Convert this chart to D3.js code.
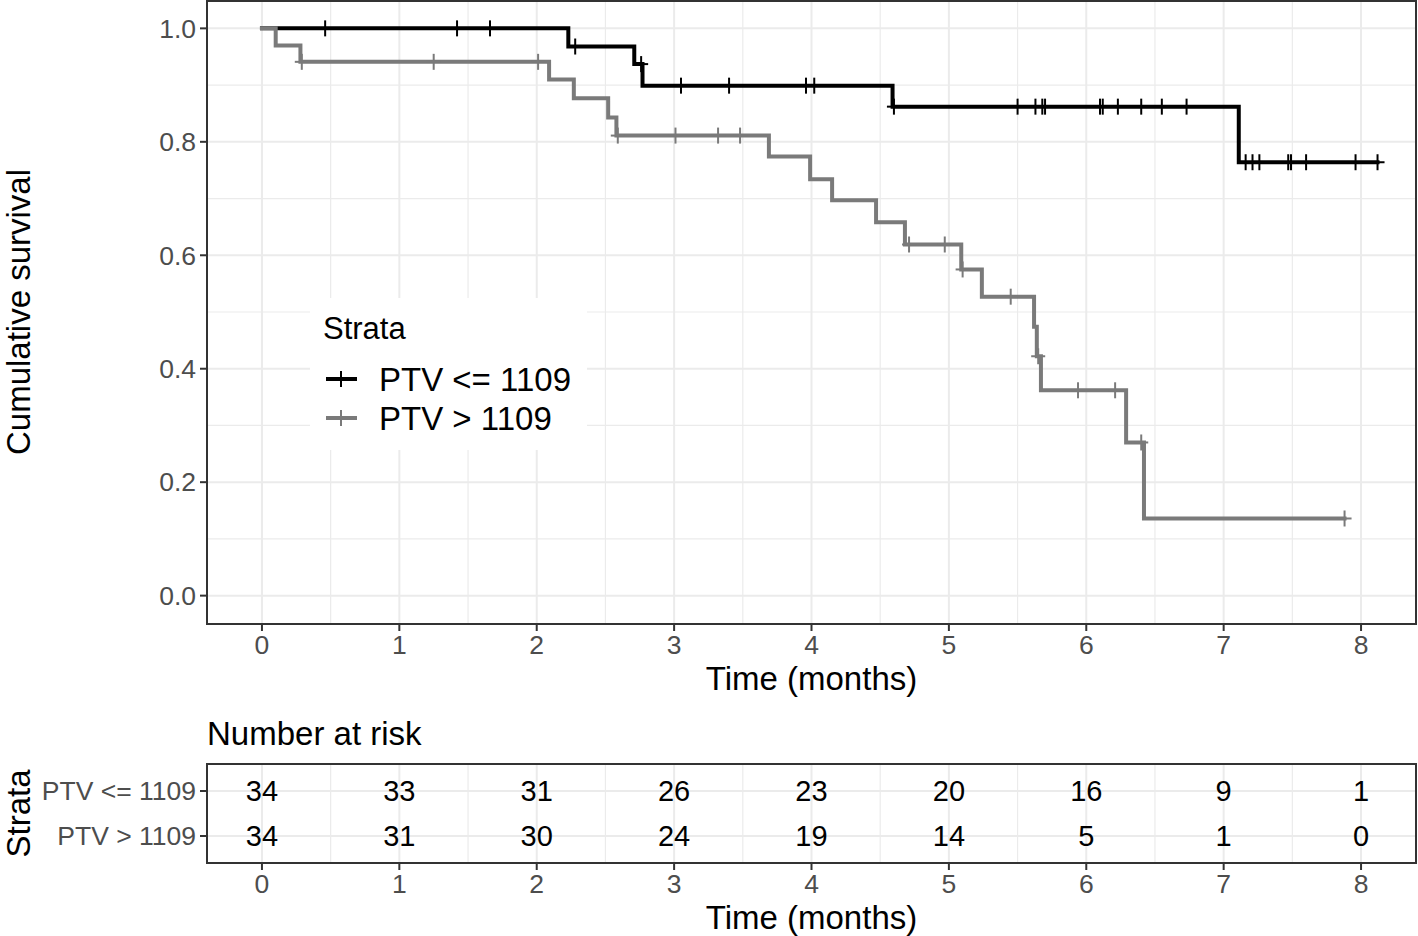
<!DOCTYPE html>
<html lang="en">
<head>
<meta charset="utf-8">
<title>Kaplan-Meier: PTV strata</title>
<script src="https://cdn.jsdelivr.net/npm/d3@7"></script>
<style>
  body { margin: 0; padding: 0; background: #fff; }
  svg { display: block; font-family: "Liberation Sans", Arial, sans-serif; }
  .grid-major { stroke: #ebebeb; stroke-width: 2; }
  .grid-minor { stroke: #ebebeb; stroke-width: 1.2; }
  .tick-lab { fill: #4d4d4d; font-size: 26.5px; }
  .ax-title { fill: #000; font-size: 33px; }
</style>
</head>
<body>
<div id="chart"></div>
<script>
// strata names
var strata = ["PTV <= 1109", "PTV > 1109"];
var colors = ["#000000", "#7a7a7a"];

// PTV <= 1109 : step times / survival after step, censored times
var lowTimes = [0, 2.23, 2.71, 2.77, 4.59, 7.11];
var lowSurv  = [1, 0.968, 0.937, 0.899, 0.862, 0.764];
var lowEnd = 8.12;
var lowCensor = [0.46, 1.42, 1.66, 2.28, 2.76, 3.05, 3.40, 3.96, 4.02, 4.60, 5.50, 5.63, 5.68, 5.70,
                 6.10, 6.12, 6.23, 6.40, 6.55, 6.73, 7.16, 7.21, 7.26, 7.47, 7.49, 7.60, 7.96, 8.12];

// PTV > 1109
var highTimes = [0, 0.10, 0.28, 2.09, 2.27, 2.52, 2.58, 3.69, 3.99, 4.15, 4.47, 4.68, 5.09, 5.24, 5.62, 5.64, 5.67, 6.29, 6.42];
var highSurv  = [1, 0.970, 0.941, 0.910, 0.877, 0.843, 0.811, 0.774, 0.734, 0.697, 0.658, 0.619, 0.575, 0.527, 0.474, 0.422, 0.362, 0.270, 0.136];
var highEnd = 7.88;
var highCensor = [0.29, 1.25, 2.01, 2.59, 3.01, 3.32, 3.48, 4.71, 4.97, 5.10, 5.45, 5.65, 5.94, 6.21, 6.40, 7.88];

// number at risk table
var riskTimes = [0, 1, 2, 3, 4, 5, 6, 7, 8];
var riskLow  = [34, 33, 31, 26, 23, 20, 16, 9, 1];
var riskHigh = [34, 31, 30, 24, 19, 14, 5, 1, 0];

var xTicks = [0, 1, 2, 3, 4, 5, 6, 7, 8];
var yTicks = [0, 0.2, 0.4, 0.6, 0.8, 1.0];

var W = 1418, H = 936;
var svg = d3.select("#chart").append("svg").attr("width", W).attr("height", H);

// ---- main panel ----
var P = {left: 207, right: 1416, top: 0, bottom: 624};
var x = d3.scaleLinear().domain([-0.4, 8.4]).range([P.left, P.right]);
var y = d3.scaleLinear().domain([-0.05, 1.05]).range([P.bottom, P.top]);

var main = svg.append("g");
main.append("rect").attr("x", P.left).attr("y", P.top).attr("width", P.right - P.left)
  .attr("height", P.bottom - P.top).attr("fill", "#fff");

// grid
var xMinor = d3.range(0.5, 8.4, 1);
var yMinor = [0.1, 0.3, 0.5, 0.7, 0.9];
main.selectAll(".gxm").data(xMinor).enter().append("line").attr("class", "grid-minor")
  .attr("x1", d => x(d)).attr("x2", d => x(d)).attr("y1", P.top).attr("y2", P.bottom);
main.selectAll(".gym").data(yMinor).enter().append("line").attr("class", "grid-minor")
  .attr("y1", d => y(d)).attr("y2", d => y(d)).attr("x1", P.left).attr("x2", P.right);
main.selectAll(".gx").data(xTicks).enter().append("line").attr("class", "grid-major")
  .attr("x1", d => x(d)).attr("x2", d => x(d)).attr("y1", P.top).attr("y2", P.bottom);
main.selectAll(".gy").data(yTicks).enter().append("line").attr("class", "grid-major")
  .attr("y1", d => y(d)).attr("y2", d => y(d)).attr("x1", P.left).attr("x2", P.right);

// legend background (inside panel, covers grid)
var leg = {x: 310, y: 298, w: 277, h: 152};
main.append("rect").attr("x", leg.x).attr("y", leg.y).attr("width", leg.w).attr("height", leg.h).attr("fill", "#fff");

// step curves
function stepPoints(times, surv, end) {
  var pts = [];
  for (var i = 0; i < times.length; i++) {
    if (i > 0) pts.push([times[i], surv[i - 1]]);
    pts.push([times[i], surv[i]]);
  }
  pts.push([end, surv[surv.length - 1]]);
  return pts;
}
function survAt(times, surv, t) {
  var s = surv[0];
  for (var i = 0; i < times.length; i++) if (times[i] <= t) s = surv[i];
  return s;
}
var curves = [
  {times: lowTimes, surv: lowSurv, end: lowEnd, censor: lowCensor},
  {times: highTimes, surv: highSurv, end: highEnd, censor: highCensor}
];
var line = d3.line().x(d => x(d[0])).y(d => y(d[1]));

curves.forEach(function(c, k) {
  main.append("path").datum(stepPoints(c.times, c.surv, c.end))
    .attr("d", line).attr("fill", "none").attr("stroke", colors[k])
    .attr("stroke-width", 4).attr("stroke-linejoin", "miter").attr("stroke-linecap", "square");
  var g = main.append("g");
  c.censor.forEach(function(t) {
    var cx = x(t), cy = y(survAt(c.times, c.surv, t));
    g.append("line").attr("x1", cx).attr("x2", cx).attr("y1", cy - 8).attr("y2", cy + 8)
      .attr("stroke", colors[k]).attr("stroke-width", 2);
    g.append("line").attr("x1", cx - 7).attr("x2", cx + 7).attr("y1", cy).attr("y2", cy)
      .attr("stroke", colors[k]).attr("stroke-width", 2);
  });
});

// panel border
main.append("rect").attr("x", P.left).attr("y", P.top + 1).attr("width", P.right - P.left)
  .attr("height", P.bottom - P.top - 1).attr("fill", "none").attr("stroke", "#333").attr("stroke-width", 2);

// axes ticks + labels
main.selectAll(".yt").data(yTicks).enter().append("line")
  .attr("x1", P.left - 7).attr("x2", P.left).attr("y1", d => y(d)).attr("y2", d => y(d))
  .attr("stroke", "#333").attr("stroke-width", 2);
main.selectAll(".yl").data(yTicks).enter().append("text").attr("class", "tick-lab")
  .attr("x", P.left - 11).attr("y", d => y(d)).attr("dy", "0.35em").attr("text-anchor", "end")
  .text(d => d3.format(".1f")(d));
main.selectAll(".xt").data(xTicks).enter().append("line")
  .attr("x1", d => x(d)).attr("x2", d => x(d)).attr("y1", P.bottom).attr("y2", P.bottom + 7)
  .attr("stroke", "#333").attr("stroke-width", 2);
main.selectAll(".xl").data(xTicks).enter().append("text").attr("class", "tick-lab")
  .attr("x", d => x(d)).attr("y", P.bottom + 30).attr("text-anchor", "middle").text(d => d);

main.append("text").attr("class", "ax-title").attr("x", (P.left + P.right) / 2).attr("y", 690)
  .attr("text-anchor", "middle").text("Time (months)");
main.append("text").attr("class", "ax-title")
  .attr("transform", "translate(30," + ((P.top + P.bottom) / 2) + ") rotate(-90)")
  .attr("text-anchor", "middle").text("Cumulative survival");

// legend
main.append("text").attr("x", 323).attr("y", 339).attr("font-size", 31).attr("fill", "#000").text("Strata");
strata.forEach(function(s, k) {
  var ly = 379 + k * 39;
  main.append("line").attr("x1", 326).attr("x2", 357).attr("y1", ly).attr("y2", ly)
    .attr("stroke", colors[k]).attr("stroke-width", 4);
  main.append("line").attr("x1", 341).attr("x2", 341).attr("y1", ly - 8).attr("y2", ly + 8)
    .attr("stroke", colors[k]).attr("stroke-width", 2);
  main.append("text").attr("x", 379).attr("y", ly).attr("dy", "0.36em").attr("font-size", 33)
    .attr("fill", "#000").text(s);
});

// ---- risk table ----
var R = {left: 207, right: 1416, top: 764, bottom: 863};
var ry = d3.scalePoint().domain(strata).range([791, 836]);
var rt = svg.append("g");
rt.selectAll(".rgm").data(xMinor).enter().append("line").attr("class", "grid-minor")
  .attr("x1", d => x(d)).attr("x2", d => x(d)).attr("y1", R.top).attr("y2", R.bottom);
rt.selectAll(".rgx").data(xTicks).enter().append("line").attr("class", "grid-major")
  .attr("x1", d => x(d)).attr("x2", d => x(d)).attr("y1", R.top).attr("y2", R.bottom);
rt.selectAll(".rgy").data(strata).enter().append("line").attr("class", "grid-major")
  .attr("y1", d => ry(d)).attr("y2", d => ry(d)).attr("x1", R.left).attr("x2", R.right);

[riskLow, riskHigh].forEach(function(vals, k) {
  rt.selectAll(".rn" + k).data(vals).enter().append("text")
    .attr("x", (d, i) => x(riskTimes[i])).attr("y", ry(strata[k])).attr("dy", "0.36em")
    .attr("text-anchor", "middle").attr("font-size", 29).attr("fill", "#000").text(d => d);
});

rt.append("rect").attr("x", R.left).attr("y", R.top).attr("width", R.right - R.left)
  .attr("height", R.bottom - R.top).attr("fill", "none").attr("stroke", "#333").attr("stroke-width", 2);

rt.selectAll(".ryt").data(strata).enter().append("line")
  .attr("x1", R.left - 7).attr("x2", R.left).attr("y1", d => ry(d)).attr("y2", d => ry(d))
  .attr("stroke", "#333").attr("stroke-width", 2);
rt.selectAll(".ryl").data(strata).enter().append("text").attr("class", "tick-lab")
  .attr("x", R.left - 11).attr("y", d => ry(d)).attr("dy", "0.35em").attr("text-anchor", "end").text(d => d);
rt.selectAll(".rxt").data(xTicks).enter().append("line")
  .attr("x1", d => x(d)).attr("x2", d => x(d)).attr("y1", R.bottom).attr("y2", R.bottom + 7)
  .attr("stroke", "#333").attr("stroke-width", 2);
rt.selectAll(".rxl").data(xTicks).enter().append("text").attr("class", "tick-lab")
  .attr("x", d => x(d)).attr("y", R.bottom + 30).attr("text-anchor", "middle").text(d => d);

rt.append("text").attr("class", "ax-title").attr("x", (R.left + R.right) / 2).attr("y", 929)
  .attr("text-anchor", "middle").text("Time (months)");
rt.append("text").attr("class", "ax-title")
  .attr("transform", "translate(30," + ((R.top + R.bottom) / 2) + ") rotate(-90)")
  .attr("text-anchor", "middle").text("Strata");
rt.append("text").attr("x", 207).attr("y", 745).attr("font-size", 33).attr("fill", "#000").text("Number at risk");
</script>
</body>
</html>
